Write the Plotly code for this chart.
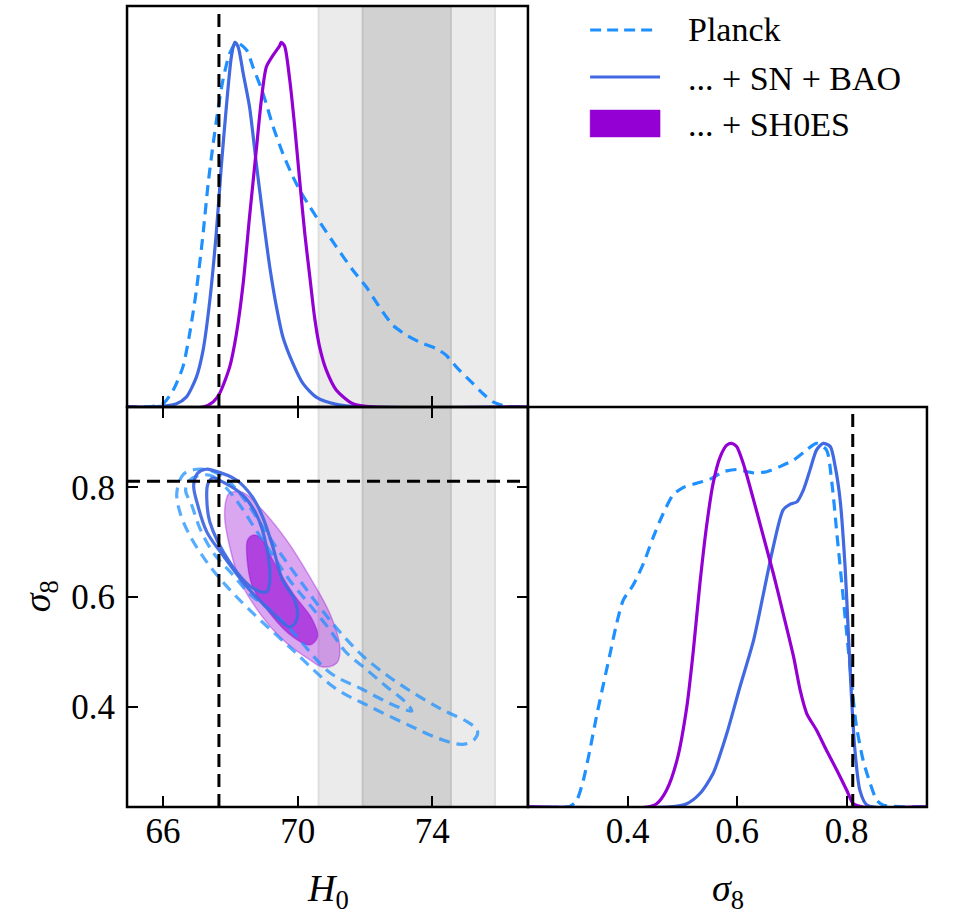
import plotly.graph_objects as go

# ---------------- 1D marginal posteriors (normalised to peak = 1) ----------------
h0_grid_planck = [64.9, 65.70, 66.00, 66.30, 66.59, 66.79, 66.99, 67.19, 67.34, 67.49, 67.63, 67.78,
                  67.98, 68.18, 68.48, 68.67, 68.97, 69.27, 69.56, 69.86, 70.06, 70.36, 70.75, 71.15,
                  71.64, 72.04, 72.43, 72.83, 73.23, 73.62, 74.12, 74.41, 74.71, 75.11, 75.50, 75.80,
                  76.19, 76.59, 76.9]
h0_pdf_planck = [0, 0.002, 0.009, 0.046, 0.110, 0.201, 0.320, 0.476, 0.613, 0.723, 0.814, 0.897,
                 0.970, 1.0, 0.979, 0.933, 0.860, 0.769, 0.695, 0.631, 0.595, 0.549, 0.494, 0.439,
                 0.375, 0.329, 0.274, 0.224, 0.197, 0.178, 0.160, 0.142, 0.110, 0.073, 0.037, 0.014,
                 0.002, 0, 0]

h0_grid_snbao = [64.9, 65.70, 66.40, 66.69, 66.99, 67.19, 67.39, 67.58, 67.73, 67.88, 68.03, 68.13,
                 68.23, 68.38, 68.57, 68.77, 68.97, 69.17, 69.37, 69.56, 69.86, 70.16, 70.55, 71.15,
                 71.84, 76.9]
h0_pdf_snbao = [0, 0, 0.009, 0.027, 0.082, 0.156, 0.293, 0.476, 0.659, 0.823, 0.961, 1.0,
                0.988, 0.915, 0.823, 0.668, 0.521, 0.384, 0.274, 0.192, 0.119, 0.064, 0.027, 0.007,
                0, 0]

h0_grid_shoes = [64.9, 67.19, 67.49, 67.68, 67.98, 68.18, 68.38, 68.57, 68.77, 68.92, 69.07, 69.27,
                 69.46, 69.51, 69.61, 69.76, 69.91, 70.06, 70.21, 70.36, 70.50, 70.65, 70.85, 71.15,
                 71.64, 72.24, 76.9]
h0_pdf_shoes = [0, 0, 0.014, 0.037, 0.110, 0.201, 0.339, 0.522, 0.705, 0.842, 0.933, 0.965,
                0.99, 1.0, 0.99, 0.90, 0.77, 0.62, 0.476, 0.357, 0.247, 0.165, 0.101, 0.046,
                0.009, 0, 0]

s8_grid_planck = [0.218, 0.295, 0.307, 0.319, 0.331, 0.343, 0.356, 0.368, 0.380, 0.392, 0.410, 0.429,
                  0.447, 0.465, 0.483, 0.502, 0.526, 0.550, 0.575, 0.599, 0.630, 0.654, 0.678, 0.703,
                  0.727, 0.745, 0.763, 0.773, 0.782, 0.791, 0.800, 0.806, 0.812, 0.818, 0.830, 0.843,
                  0.855, 0.867, 0.947]
s8_pdf_planck = [0, 0.002, 0.018, 0.073, 0.156, 0.248, 0.339, 0.422, 0.505, 0.569, 0.610, 0.670,
                 0.743, 0.807, 0.858, 0.879, 0.890, 0.901, 0.922, 0.928, 0.919, 0.922, 0.936, 0.954,
                 0.982, 1.0, 0.982, 0.890, 0.752, 0.615, 0.477, 0.385, 0.294, 0.220, 0.128, 0.064,
                 0.018, 0.005, 0]

s8_grid_snbao = [0.218, 0.477, 0.508, 0.532, 0.556, 0.581, 0.605, 0.630, 0.648, 0.666, 0.684, 0.697,
                 0.709, 0.721, 0.733, 0.745, 0.757, 0.770, 0.779, 0.788, 0.797, 0.803, 0.809, 0.815,
                 0.824, 0.837, 0.947]
s8_pdf_snbao = [0, 0, 0.009, 0.037, 0.092, 0.202, 0.330, 0.459, 0.587, 0.716, 0.817, 0.833,
                0.839, 0.872, 0.927, 0.982, 1.0, 0.991, 0.936, 0.844, 0.661, 0.477, 0.294, 0.156,
                0.046, 0.005, 0]

s8_grid_shoes = [0.218, 0.435, 0.453, 0.471, 0.490, 0.508, 0.520, 0.532, 0.544, 0.556, 0.569, 0.581,
                 0.590, 0.599, 0.611, 0.630, 0.648, 0.666, 0.684, 0.703, 0.715, 0.727, 0.745, 0.763,
                 0.782, 0.800, 0.812, 0.830, 0.947]
s8_pdf_shoes = [0, 0, 0.009, 0.046, 0.128, 0.275, 0.431, 0.615, 0.771, 0.890, 0.963, 0.995,
                1.0, 0.991, 0.945, 0.844, 0.743, 0.642, 0.532, 0.413, 0.321, 0.257, 0.211, 0.156,
                0.101, 0.046, 0.009, 0, 0]

# ---------------- 2D credible-region outlines (H0, sigma8) ----------------
planck_2sig_h0 = [67.00, 67.45, 67.92, 68.43, 68.93, 69.46, 70.06, 70.65, 71.25, 71.90, 72.67, 73.53,
                  74.30, 75.04, 75.34, 75.25, 74.89, 74.22, 73.33, 72.14, 71.10, 69.85, 68.57, 67.86,
                  67.30, 66.79, 66.50, 66.41, 66.61]
planck_2sig_s8 = [0.833, 0.830, 0.813, 0.777, 0.731, 0.682, 0.631, 0.582, 0.537, 0.495, 0.457, 0.422,
                  0.395, 0.373, 0.357, 0.341, 0.332, 0.342, 0.366, 0.401, 0.435, 0.504, 0.577, 0.622,
                  0.664, 0.713, 0.755, 0.791, 0.824]

planck_1sig_h0 = [67.09, 67.45, 67.83, 68.28, 68.72, 69.23, 69.76, 70.36, 70.95, 71.40, 72.05, 72.64,
                  73.18, 73.39, 72.94, 71.93, 70.95, 69.85, 69.17, 68.57, 68.07, 67.48, 67.09, 66.85,
                  66.67, 66.79]
planck_1sig_s8 = [0.822, 0.821, 0.802, 0.768, 0.726, 0.679, 0.631, 0.586, 0.541, 0.502, 0.468, 0.437,
                  0.410, 0.393, 0.401, 0.432, 0.463, 0.537, 0.577, 0.606, 0.641, 0.682, 0.726, 0.768,
                  0.795, 0.813]

snbao_2sig_h0 = [67.27, 67.48, 68.19, 68.66, 68.96, 69.26, 69.55, 69.91, 69.97, 69.76, 69.26, 68.49,
                 67.77, 67.30, 67.03, 66.91, 67.03]
snbao_2sig_s8 = [0.833, 0.831, 0.813, 0.782, 0.746, 0.692, 0.631, 0.595, 0.559, 0.546, 0.571, 0.619,
                 0.677, 0.719, 0.768, 0.804, 0.826]

snbao_1sig_h0 = [67.48, 67.77, 68.37, 68.78, 69.08, 69.17, 69.08, 68.66, 67.98, 67.39, 67.30, 67.33]
snbao_1sig_s8 = [0.817, 0.810, 0.786, 0.750, 0.690, 0.630, 0.610, 0.617, 0.664, 0.737, 0.777, 0.806]

shoes_2sig_h0 = [67.98, 68.37, 68.87, 69.67, 70.36, 70.95, 71.25, 71.16, 70.74, 70.36, 69.55, 68.87,
                 68.28, 67.98, 67.83, 67.89]
shoes_2sig_s8 = [0.790, 0.791, 0.764, 0.704, 0.637, 0.571, 0.510, 0.480, 0.473, 0.486, 0.523, 0.571,
                 0.631, 0.692, 0.746, 0.781]

shoes_1sig_h0 = [68.66, 68.87, 69.26, 69.85, 70.44, 70.59, 70.36, 69.85, 69.26, 68.66, 68.49, 68.51]
shoes_1sig_s8 = [0.713, 0.710, 0.668, 0.608, 0.559, 0.528, 0.513, 0.528, 0.564, 0.619, 0.673, 0.704]

# ---------------- reference values ----------------
planck_h0, planck_s8 = 67.66, 0.811
shoes_h0, shoes_sigma = 73.24, 1.31

# ---------------- axis settings ----------------
h0_range = [64.93, 76.84]
s8_range = [0.218, 0.9465]
pdf_range = [0, 1.1]
h0_ticks = [66, 70, 74]
s8_ticks = [0.4, 0.6, 0.8]
s8_ticktext = ["0.4", "0.6", "0.8"]

C_PLANCK = "#1E90FF"
C_SNBAO = "#4169E1"
C_SHOES = "#9400D3"
FONT = "Liberation Serif"
LW = 2.5  # frame line width


def closed(xs, ys):
    return list(xs) + [xs[0]], list(ys) + [ys[0]]


fig = go.Figure()

# top-left: H0 marginals
for xs, ys, col, dash in [(h0_grid_planck, h0_pdf_planck, C_PLANCK, "11px,7px"),
                          (h0_grid_snbao, h0_pdf_snbao, C_SNBAO, None),
                          (h0_grid_shoes, h0_pdf_shoes, C_SHOES, None)]:
    fig.add_trace(go.Scatter(x=xs, y=ys, mode="lines", xaxis="x", yaxis="y",
                             line=dict(color=col, width=3.2, dash=dash, shape="spline", smoothing=0.7),
                             showlegend=False, hoverinfo="skip"))

# bottom-left: 2D regions
for xs, ys, fill in [(shoes_2sig_h0, shoes_2sig_s8, "rgba(148,0,211,0.35)"),
                     (shoes_1sig_h0, shoes_1sig_s8, "rgba(148,0,211,0.6)")]:
    cx, cy = closed(xs, ys)
    fig.add_trace(go.Scatter(x=cx, y=cy, mode="lines", xaxis="x2", yaxis="y2", fill="toself",
                             fillcolor=fill,
                             line=dict(color="rgba(148,0,211,0.35)", width=1.5, shape="spline", smoothing=1.0),
                             showlegend=False, hoverinfo="skip"))

for xs, ys in [(planck_2sig_h0, planck_2sig_s8), (planck_1sig_h0, planck_1sig_s8)]:
    cx, cy = closed(xs, ys)
    fig.add_trace(go.Scatter(x=cx, y=cy, mode="lines", xaxis="x2", yaxis="y2",
                             line=dict(color="rgba(30,144,255,0.75)", width=3.2, dash="11px,7px",
                                       shape="spline", smoothing=1.0),
                             showlegend=False, hoverinfo="skip"))

for xs, ys in [(snbao_2sig_h0, snbao_2sig_s8), (snbao_1sig_h0, snbao_1sig_s8)]:
    cx, cy = closed(xs, ys)
    fig.add_trace(go.Scatter(x=cx, y=cy, mode="lines", xaxis="x2", yaxis="y2",
                             line=dict(color="rgba(65,105,225,0.95)", width=3.2, shape="spline", smoothing=1.0),
                             showlegend=False, hoverinfo="skip"))

# bottom-right: sigma8 marginals
for xs, ys, col, dash in [(s8_grid_planck, s8_pdf_planck, C_PLANCK, "11px,7px"),
                          (s8_grid_snbao, s8_pdf_snbao, C_SNBAO, None),
                          (s8_grid_shoes, s8_pdf_shoes, C_SHOES, None)]:
    fig.add_trace(go.Scatter(x=xs, y=ys, mode="lines", xaxis="x3", yaxis="y3",
                             line=dict(color=col, width=3.2, dash=dash, shape="spline", smoothing=0.7),
                             showlegend=False, hoverinfo="skip"))

shapes = []
# SH0ES 1 and 2 sigma bands in the H0 columns
for xr, yr in [("x", "y domain"), ("x2", "y2 domain")]:
    shapes.append(dict(type="rect", xref=xr, yref=yr, x0=shoes_h0 - 2 * shoes_sigma, x1=shoes_h0 + 2 * shoes_sigma,
                       y0=0, y1=1, fillcolor="#ebebeb", line=dict(color="#dedede", width=2), layer="below"))
    shapes.append(dict(type="rect", xref=xr, yref=yr, x0=shoes_h0 - shoes_sigma, x1=shoes_h0 + shoes_sigma,
                       y0=0, y1=1, fillcolor="#d1d1d1", line=dict(color="#c4c4c4", width=2), layer="below"))

dash_black = dict(color="black", width=3, dash="13px,7px")
shapes.append(dict(type="line", xref="x", yref="y domain", x0=planck_h0, x1=planck_h0, y0=0, y1=1,
                   line=dash_black, layer="above"))
shapes.append(dict(type="line", xref="x2", yref="y2 domain", x0=planck_h0, x1=planck_h0, y0=0, y1=1,
                   line=dash_black, layer="above"))
shapes.append(dict(type="line", xref="x2 domain", yref="y2", x0=0, x1=1, y0=planck_s8, y1=planck_s8,
                   line=dash_black, layer="above"))
shapes.append(dict(type="line", xref="x3", yref="y3 domain", x0=planck_s8, x1=planck_s8, y0=0, y1=1,
                   line=dash_black, layer="above"))

# panel frames (shared edges coincide)
for xr, yr in [("x domain", "y domain"), ("x2 domain", "y2 domain"), ("x3 domain", "y3 domain")]:
    shapes.append(dict(type="rect", xref=xr, yref=yr, x0=0, x1=1, y0=0, y1=1,
                       line=dict(color="black", width=LW), fillcolor="rgba(0,0,0,0)", layer="above"))

# legend samples
shapes.append(dict(type="line", xref="paper", yref="paper", x0=0.616, x1=0.681, y0=0.9673, y1=0.9673,
                   line=dict(color=C_PLANCK, width=3, dash="11px,6px")))
shapes.append(dict(type="line", xref="paper", yref="paper", x0=0.616, x1=0.689, y0=0.916, y1=0.916,
                   line=dict(color=C_SNBAO, width=3)))
shapes.append(dict(type="rect", xref="paper", yref="paper", x0=0.616, x1=0.689, y0=0.8506, y1=0.880,
                   fillcolor=C_SHOES, line=dict(color="rgba(148,0,211,0.5)", width=1)))

annotations = []
for txt, y in [("Planck", 0.9673), ("... + SN + BAO", 0.9139), ("... + SH0ES", 0.8637)]:
    annotations.append(dict(text=txt, x=0.716, y=y, xref="paper", yref="paper", xanchor="left",
                            yanchor="middle", showarrow=False, font=dict(family=FONT, size=34, color="black")))

annotations.append(dict(text="<i>H</i><sub>0</sub>", x=0.3424, y=0.028, xref="paper", yref="paper",
                        showarrow=False, xanchor="center", yanchor="middle",
                        font=dict(family=FONT, size=38, color="black")))
annotations.append(dict(text="<i>σ</i><sub>8</sub>", x=0.760, y=0.028, xref="paper", yref="paper",
                        showarrow=False, xanchor="center", yanchor="middle",
                        font=dict(family=FONT, size=38, color="black")))
annotations.append(dict(text="<i>σ</i><sub>8</sub>", x=0.042, y=0.350, xref="paper", yref="paper",
                        showarrow=False, xanchor="center", yanchor="middle", textangle=-90,
                        font=dict(family=FONT, size=38, color="black")))

axis_common = dict(showline=False, showgrid=False, zeroline=False,
                   ticks="inside", ticklen=11, tickwidth=2, tickcolor="black",
                   tickfont=dict(family=FONT, size=35, color="black"))

x_dom_left = [0.1326, 0.5511]
x_dom_right = [0.5511, 0.9676]
y_dom_top = [0.5562, 0.9935]
y_dom_bot = [0.1200, 0.5562]

fig.update_layout(
    width=958, height=917,
    margin=dict(l=0, r=0, t=0, b=0),
    paper_bgcolor="white", plot_bgcolor="white",
    showlegend=False,
    shapes=shapes, annotations=annotations,
    xaxis=dict(axis_common, domain=x_dom_left, anchor="y", range=h0_range, tickvals=h0_ticks,
               showticklabels=False),
    yaxis=dict(axis_common, domain=y_dom_top, anchor="x", range=pdf_range, ticks="",
               showticklabels=False),
    xaxis2=dict(axis_common, domain=x_dom_left, anchor="y2", range=h0_range, tickvals=h0_ticks,
                mirror="ticks", ticklabelstandoff=0),
    yaxis2=dict(axis_common, domain=y_dom_bot, anchor="x2", range=s8_range, tickvals=s8_ticks,
                ticktext=s8_ticktext, mirror="ticks", ticklabelstandoff=11),
    xaxis3=dict(axis_common, domain=x_dom_right, anchor="y3", range=s8_range, tickvals=s8_ticks,
                ticktext=s8_ticktext, ticklabelstandoff=0),
    yaxis3=dict(axis_common, domain=y_dom_bot, anchor="x3", range=pdf_range, ticks="",
                showticklabels=False),
)

fig.write_html("out.html")
